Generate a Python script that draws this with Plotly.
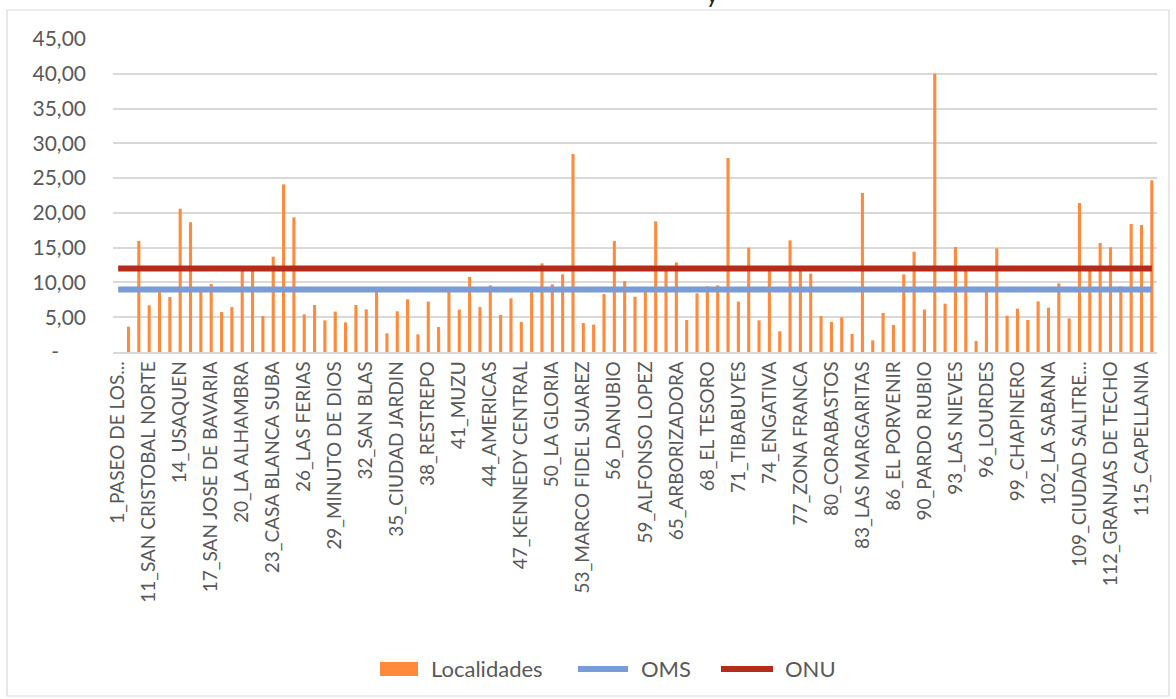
import plotly.graph_objects as go

# ---------------- data ----------------
categories = [
    "1_PASEO DE LOS LIBERTADORES", "9_VERBENAL", "10_LA URIBE", "11_SAN CRISTOBAL NORTE",
    "12_TOBERIN", "13_LOS CEDROS", "14_USAQUEN", "15_COUNTRY CLUB", "16_SANTA BARBARA",
    "17_SAN JOSE DE BAVARIA", "18_BRITALIA", "19_EL PRADO", "20_LA ALHAMBRA", "21_LOS ANDES",
    "22_DOCE DE OCTUBRE", "23_CASA BLANCA SUBA", "24_NIZA", "25_LA FLORESTA", "26_LAS FERIAS",
    "27_SUBA", "28_EL RINCON", "29_MINUTO DE DIOS", "30_BOYACA REAL", "31_SANTA CECILIA",
    "32_SAN BLAS", "33_SOSIEGO", "34_20 DE JULIO", "35_CIUDAD JARDIN", "36_SAN JOSE",
    "37_SANTA ISABEL", "38_RESTREPO", "39_QUIROGA", "40_CIUDAD MONTES", "41_MUZU",
    "42_VENECIA", "43_SAN RAFAEL", "44_AMERICAS", "45_CARVAJAL", "46_CASTILLA",
    "47_KENNEDY CENTRAL", "48_TIMIZA", "49_APOGEO", "50_LA GLORIA", "51_LOS LIBERTADORES",
    "52_LA FLORA", "53_MARCO FIDEL SUAREZ", "54_MARRUECOS", "55_DIANA TURBAY", "56_DANUBIO",
    "57_GRAN YOMASA", "58_COMUNEROS", "59_ALFONSO LOPEZ", "61_CIUDAD USME", "62_TUNJUELITO",
    "65_ARBORIZADORA", "66_SAN FRANCISCO", "67_LUCERO", "68_EL TESORO", "69_ISMAEL PERDOMO",
    "70_JERUSALEM", "71_TIBABUYES", "72_BOLIVIA", "73_GARCES NAVAS", "74_ENGATIVA",
    "75_FONTIBON", "76_FONTIBON SAN PABLO", "77_ZONA FRANCA", "78_TINTAL NORTE",
    "79_CALANDAIMA", "80_CORABASTOS", "81_GRAN BRITALIA", "82_PATIO BONITO",
    "83_LAS MARGARITAS", "84_BOSA OCCIDENTAL", "85_BOSA CENTRAL", "86_EL PORVENIR",
    "87_TINTAL SUR", "88_EL REFUGIO", "90_PARDO RUBIO", "91_SAGRADO CORAZON",
    "92_LA MACARENA", "93_LAS NIEVES", "94_LA CANDELARIA", "95_LAS CRUCES", "96_LOURDES",
    "97_CHICO LAGO", "98_LOS ALCAZARES", "99_CHAPINERO", "100_GALERIAS", "101_TEUSAQUILLO",
    "102_LA SABANA", "106_LA ESMERALDA", "107_QUINTA PAREDES", "109_CIUDAD SALITRE ORIENTAL",
    "110_CIUDAD SALITRE OCCIDENTAL", "111_PUENTE ARANDA", "112_GRANJAS DE TECHO",
    "113_BAVARIA", "114_MODELIA", "115_CAPELLANIA", "116_ALAMOS",
]

localidades = [
    0.00, 3.64, 15.96, 6.71, 8.60, 7.91, 20.60, 18.64, 8.80, 9.78,
    5.75, 6.47, 11.90, 11.90, 5.17, 13.70, 24.10, 19.36, 5.41, 6.76,
    4.55, 5.80, 4.26, 6.76, 6.13, 8.70, 2.68, 5.85, 7.57, 2.54,
    7.24, 3.59, 8.70, 6.09, 10.78, 6.47, 9.58, 5.32, 7.71, 4.31,
    8.70, 12.75, 9.73, 11.16, 28.46, 4.17, 3.93, 8.34, 15.96, 10.20,
    7.95, 8.70, 18.78, 11.90, 12.89, 4.60, 8.43, 9.44, 9.58, 27.89,
    7.24, 15.00, 4.55, 11.90, 2.97, 16.05, 11.90, 11.26, 5.17, 4.31,
    4.98, 2.59, 22.86, 1.68, 5.61, 3.88, 11.16, 14.42, 6.09, 40.00,
    6.95, 15.09, 11.90, 1.58, 8.70, 14.90, 5.22, 6.23, 4.60, 7.28,
    6.37, 9.87, 4.84, 21.42, 11.90, 15.67, 15.05, 9.44, 18.40, 18.26,
    24.68,
]

oms_value = 9.0
onu_value = 12.0
oms = [oms_value] * len(categories)
onu = [onu_value] * len(categories)

tick_categories = categories[::3]
tick_labels = [
    "1_PASEO DE LOS...", "11_SAN CRISTOBAL NORTE", "14_USAQUEN", "17_SAN JOSE DE BAVARIA",
    "20_LA ALHAMBRA", "23_CASA BLANCA SUBA", "26_LAS FERIAS", "29_MINUTO DE DIOS",
    "32_SAN BLAS", "35_CIUDAD JARDIN", "38_RESTREPO", "41_MUZU", "44_AMERICAS",
    "47_KENNEDY CENTRAL", "50_LA GLORIA", "53_MARCO FIDEL SUAREZ", "56_DANUBIO",
    "59_ALFONSO LOPEZ", "65_ARBORIZADORA", "68_EL TESORO", "71_TIBABUYES", "74_ENGATIVA",
    "77_ZONA FRANCA", "80_CORABASTOS", "83_LAS MARGARITAS", "86_EL PORVENIR",
    "90_PARDO RUBIO", "93_LAS NIEVES", "96_LOURDES", "99_CHAPINERO", "102_LA SABANA",
    "109_CIUDAD SALITRE...", "112_GRANJAS DE TECHO", "115_CAPELLANIA",
]

y_ticks = [0, 5, 10, 15, 20, 25, 30, 35, 40, 45]
y_tick_labels = ["-\u00a0\u00a0\u00a0\u00a0\u00a0", "5,00", "10,00", "15,00", "20,00",
                 "25,00", "30,00", "35,00", "40,00", "45,00"]

series_names = ["Localidades", "OMS", "ONU"]
series_colors = ["#FF8A3C", "#789CD8", "#B42C1A"]

# ---------------- layout constants ----------------
W, H = 1176, 699
ML, MR, MT, MB = 113, 19, 39, 347
PW, PH = W - ML - MR, H - MT - MB
FONT = "Lato, 'Open Sans', sans-serif"
TXT = "#595959"
GRID = "#D9D9D9"


def px_x(px):
    return (px - ML) / PW


def px_y(py):
    return (H - MB - py) / PH


fig = go.Figure()
fig.add_trace(go.Bar(x=categories, y=localidades, name=series_names[0],
                     marker=dict(color=series_colors[0], line=dict(width=0))))
fig.add_trace(go.Scatter(x=categories, y=oms, name=series_names[1], mode="lines",
                         line=dict(color=series_colors[1], width=6)))
fig.add_trace(go.Scatter(x=categories, y=onu, name=series_names[2], mode="lines",
                         line=dict(color=series_colors[2], width=6)))

# custom legend (Excel style: wide swatch, long line samples)
LEG_Y = 669
shapes = [
    dict(type="rect", xref="paper", yref="paper",
         x0=px_x(7), x1=px_x(1169), y0=px_y(696), y1=px_y(10),
         line=dict(color=GRID, width=1.2), fillcolor="rgba(0,0,0,0)", layer="below"),
    dict(type="rect", xref="paper", yref="paper", x0=px_x(380), x1=px_x(418),
         y0=px_y(LEG_Y + 7), y1=px_y(LEG_Y - 7), line=dict(width=0),
         fillcolor=series_colors[0]),
    dict(type="line", xref="paper", yref="paper", x0=px_x(578), x1=px_x(628),
         y0=px_y(LEG_Y), y1=px_y(LEG_Y), line=dict(color=series_colors[1], width=6)),
    dict(type="line", xref="paper", yref="paper", x0=px_x(721), x1=px_x(773),
         y0=px_y(LEG_Y), y1=px_y(LEG_Y), line=dict(color=series_colors[2], width=6)),
]
annotations = [
    dict(text="y", xref="paper", yref="paper", x=px_x(712), y=px_y(-7),
         xanchor="center", yanchor="middle", showarrow=False,
         font=dict(size=24, color="#222222", family=FONT)),
]
for name, xpx in zip(series_names, [429, 639, 783]):
    annotations.append(dict(text=name, xref="paper", yref="paper", x=px_x(xpx), y=px_y(LEG_Y),
                            xanchor="left", yanchor="middle", showarrow=False,
                            font=dict(size=22, color=TXT, family=FONT)))

fig.update_layout(
    width=W, height=H,
    margin=dict(l=ML, r=MR, t=MT, b=MB, pad=0),
    paper_bgcolor="white", plot_bgcolor="white",
    font=dict(family=FONT, color=TXT, size=21),
    bargap=0.7,
    showlegend=False,
    xaxis=dict(type="category", tickmode="array", tickvals=tick_categories, ticktext=tick_labels,
               tickangle=-90, tickfont=dict(size=19, color=TXT), showgrid=False,
               showline=True, linecolor=GRID, linewidth=1.5, ticks="",
               range=[-0.5, len(categories) - 0.5]),
    yaxis=dict(range=[0, 45], tickmode="array", tickvals=y_ticks, ticktext=y_tick_labels,
               tickfont=dict(size=21, color=TXT), showgrid=True, gridcolor=GRID, gridwidth=1.5,
               zeroline=False, showline=False, ticks="", ticklabelstandoff=26),
    shapes=shapes,
    annotations=annotations,
)

fig.write_html("out.html", config={"displayModeBar": False},
               post_script="document.body.style.margin='0';document.body.style.overflow='hidden';")
